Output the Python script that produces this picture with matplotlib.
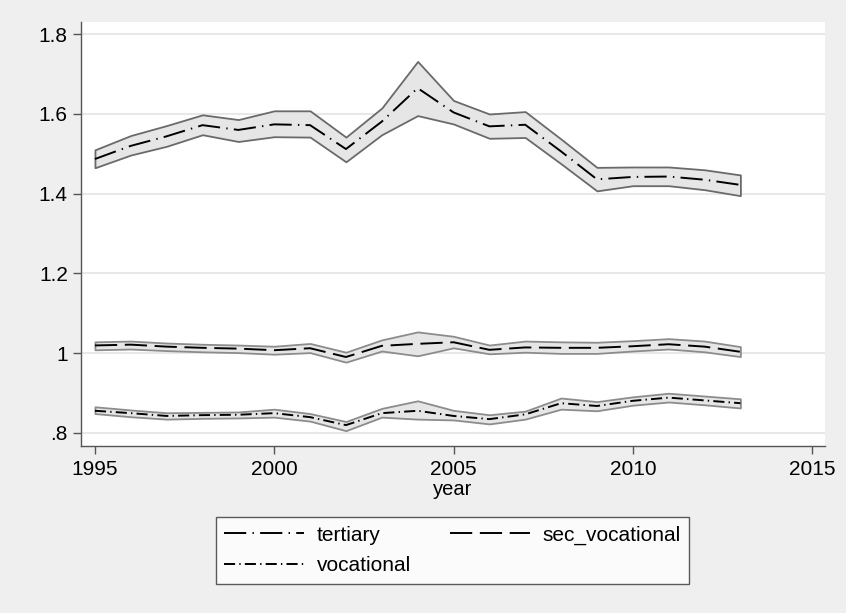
import matplotlib
matplotlib.use("Agg")
import matplotlib.pyplot as plt

plt.rcParams['font.family'] = ['Liberation Sans', 'DejaVu Sans']
plt.rcParams['lines.scale_dashes'] = False

years = [1995, 1996, 1997, 1998, 1999, 2000, 2001, 2002, 2003, 2004,
         2005, 2006, 2007, 2008, 2009, 2010, 2011, 2012, 2013]

tertiary_mean = [1.487, 1.520, 1.544, 1.572, 1.560, 1.574, 1.572, 1.512, 1.581, 1.665,
                 1.604, 1.569, 1.573, 1.506, 1.436, 1.442, 1.443, 1.435, 1.422]
tertiary_hi = [1.510, 1.546, 1.571, 1.598, 1.586, 1.608, 1.608, 1.542, 1.615, 1.732,
               1.634, 1.600, 1.606, 1.537, 1.466, 1.467, 1.467, 1.460, 1.447]
tertiary_lo = [1.465, 1.497, 1.519, 1.548, 1.531, 1.543, 1.542, 1.480, 1.548, 1.596,
               1.575, 1.539, 1.541, 1.475, 1.407, 1.420, 1.420, 1.410, 1.395]

sec_voc_mean = [1.019, 1.021, 1.016, 1.013, 1.011, 1.007, 1.012, 0.990, 1.018, 1.023,
                1.027, 1.008, 1.014, 1.013, 1.013, 1.017, 1.022, 1.016, 1.003]
sec_voc_hi = [1.028, 1.030, 1.025, 1.022, 1.020, 1.017, 1.024, 1.002, 1.033, 1.053,
              1.042, 1.020, 1.030, 1.028, 1.027, 1.031, 1.036, 1.030, 1.016]
sec_voc_lo = [1.008, 1.010, 1.006, 1.003, 1.001, 0.997, 1.001, 0.977, 1.005, 0.993,
              1.013, 0.998, 1.002, 0.999, 0.999, 1.005, 1.010, 1.003, 0.991]

vocational_mean = [0.855, 0.849, 0.842, 0.844, 0.845, 0.849, 0.839, 0.819, 0.849, 0.855,
                   0.842, 0.834, 0.846, 0.874, 0.867, 0.880, 0.888, 0.881, 0.874]
vocational_hi = [0.865, 0.857, 0.850, 0.851, 0.852, 0.859, 0.848, 0.828, 0.861, 0.880,
                 0.856, 0.845, 0.854, 0.887, 0.878, 0.890, 0.899, 0.892, 0.885]
vocational_lo = [0.848, 0.840, 0.834, 0.836, 0.837, 0.839, 0.829, 0.805, 0.839, 0.834,
                 0.832, 0.822, 0.834, 0.859, 0.855, 0.869, 0.877, 0.870, 0.862]

labels = ['tertiary', 'sec_vocational', 'vocational']
xticks = [1995, 2000, 2005, 2010, 2015]
yticks = [0.8, 1.0, 1.2, 1.4, 1.6, 1.8]
ytick_labels = ['.8', '1', '1.2', '1.4', '1.6', '1.8']

bg = '#efefef'
fig = plt.figure(figsize=(8.46, 6.13), dpi=100, facecolor=bg)
ax = fig.add_axes([0.0957, 0.2724, 0.9752 - 0.0957, 0.9646 - 0.2724])
ax.set_facecolor('white')

band_face = '#e6e6e6'
band_edges = ['#6a6a6a', '#8c8c8c', '#8c8c8c']
dash_styles = [(0, (16, 4.5, 1, 4.5)), (0, (16, 5.5)), (0, (8, 3, 1, 3))]

series = [(tertiary_mean, tertiary_hi, tertiary_lo),
          (sec_voc_mean, sec_voc_hi, sec_voc_lo),
          (vocational_mean, vocational_hi, vocational_lo)]

for (m, hi, lo), ec in zip(series, band_edges):
    ax.fill_between(years, lo, hi, facecolor=band_face, edgecolor=ec,
                    linewidth=1.3, zorder=2)

handles = []
for (m, hi, lo), ls, lab in zip(series, dash_styles, labels):
    ln, = ax.plot(years, m, color='black', linewidth=1.4, linestyle=ls, zorder=3, label=lab)
    handles.append(ln)

ax.set_xlim(1994.61, 2015.36)
ax.set_ylim(0.7665, 1.8317)
ax.set_xticks(xticks)
ax.set_xticklabels([str(x) for x in xticks])
ax.set_yticks(yticks)
ax.set_yticklabels(ytick_labels)
ax.yaxis.grid(True, color='#e8e8e8', linewidth=1.5, zorder=0)
ax.set_axisbelow(True)

for s in ['top', 'right']:
    ax.spines[s].set_visible(False)
for s in ['left', 'bottom']:
    ax.spines[s].set_color('#555555')
    ax.spines[s].set_linewidth(1.0)

ax.tick_params(axis='both', direction='out', length=6, width=1.0, color='#555555',
               labelsize=15, labelcolor='black', pad=3.5)
ax.tick_params(axis='x', pad=4)
ax.set_xlabel('year', fontsize=14.5, labelpad=1)

# row-wise legend order: tertiary, sec_vocational / vocational
order = [0, 2, 1]
leg = fig.legend(handles=[handles[i] for i in order], labels=[labels[i] for i in order],
                 ncol=2, loc='center', bbox_to_anchor=(0.535, 0.102), fontsize=15,
                 frameon=True, fancybox=False, edgecolor='#333333', facecolor='white',
                 handlelength=3.84, handletextpad=0.58, columnspacing=1.9,
                 labelspacing=0.55, borderpad=0.4, borderaxespad=0)
leg.get_frame().set_linewidth(1.0)

fig.savefig('out.png', dpi=100, facecolor=bg)
